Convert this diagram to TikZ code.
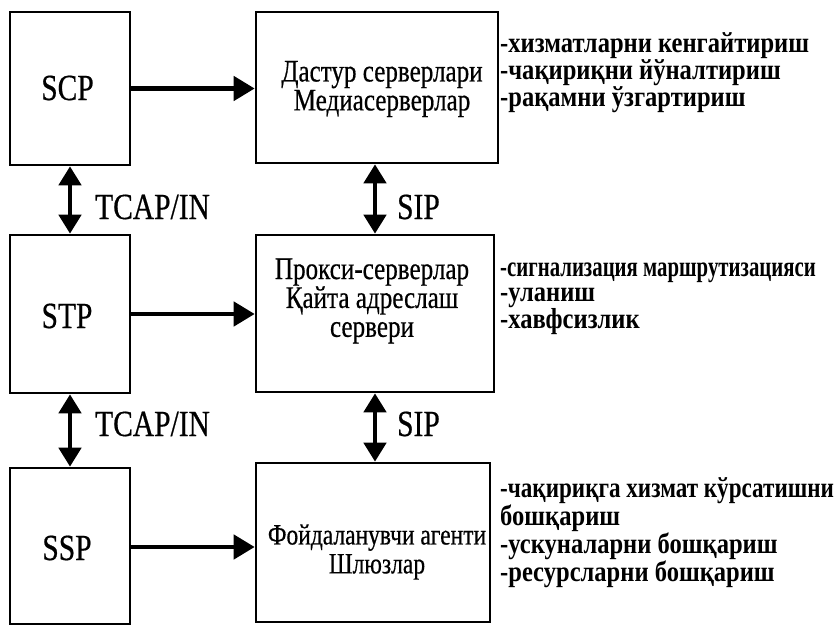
\documentclass[tikz,border=0pt]{standalone}
\usepackage{fontspec}
\setmainfont{Liberation Serif}[FakeStretch=0.8, FakeBold=0.5]
\newfontfamily\listfam{Liberation Serif}[FakeStretch=0.85]
\newfontfamily\listnarrow{Liberation Serif}[FakeStretch=0.72]
\newfontfamily\listmid{Liberation Serif}[FakeStretch=0.8]
\usetikzlibrary{arrows.meta}
\begin{document}
\begin{tikzpicture}[x=1bp,y=-1bp,
  box/.style={draw, line width=2.6bp, inner sep=0pt},
  boxtext/.style={align=center, inner sep=0pt, font=\fontsize{31.5}{29}\selectfont},
  labtext/.style={inner sep=0pt, font=\fontsize{37}{37}\selectfont},
  listtext/.style={align=left, inner sep=0pt, anchor=west, font=\listfam\bfseries\fontsize{29}{24.5}\selectfont},
  conn/.style={line width=4.5bp, -{Triangle[length=21bp,width=24bp]}},
  dconn/.style={line width=4.5bp, {Triangle[length=19bp,width=22bp]}-{Triangle[length=19bp,width=22bp]}}]
\useasboundingbox (0,0) rectangle (836,625);
% left column
\node[box, minimum width=120bp, minimum height=153bp] (scp) at (70,88.5) {};
\node[box, minimum width=120bp, minimum height=158bp] (stp) at (70,314) {};
\node[box, minimum width=120bp, minimum height=156bp] (ssp) at (70,546) {};
\node[labtext] (scpt) at (67.5,88) {SCP};
\node[labtext] (stpt) at (67,316) {STP};
\node[labtext] (sspt) at (67,548) {SSP};
% middle column
\node[box, minimum width=242bp, minimum height=151bp] (ds) at (377,87.5) {};
\node[box, minimum width=238bp, minimum height=157bp] (px) at (375,313.5) {};
\node[box, minimum width=234bp, minimum height=159bp] (fy) at (373,542.5) {};
\node[boxtext] (dst) at (382,89) {Дастур серверлари\\Медиасерверлар};
\node[boxtext] (pxt) at (372,301) {Прокси-серверлар\\Қайта адреслаш\\сервери};
\node[boxtext, font=\fontsize{29.5}{29}\selectfont] (fyt) at (377,552) {Фойдаланувчи агенти\\Шлюзлар};
% horizontal arrows
\draw[conn] (scp.east) -- (scp.east -| ds.west);
\draw[conn] (stp.east) -- (stp.east -| px.west);
\draw[conn] (ssp.east) ++(0,1) coordinate (sspa) (sspa) -- (sspa -| fy.west);
% vertical arrows
\draw[dconn] (scp.south) -- (stp.north);
\draw[dconn] (stp.south) -- (ssp.north);
\draw[dconn] (px.north) -- (px.north |- ds.south);
\draw[dconn] (px.south) -- (px.south |- fy.north);
% protocol labels
\node[labtext, anchor=west] (tc1) at (95,207) {TCAP/IN};
\node[labtext, anchor=west] (tc2) at (95,424) {TCAP/IN};
\node[labtext, anchor=west] (sip1) at (397,207) {SIP};
\node[labtext, anchor=west] (sip2) at (397,424) {SIP};
% function lists
\node[listtext] (l1) at (500,73) {-хизматларни кенгайтириш\\-чақириқни йўналтириш\\-рақамни ўзгартириш};
\node[listtext] (l2) at (500,299) {{\listnarrow\bfseries -сигнализация маршрутизацияси}\\-уланиш\\-хавфсизлик};
\node[listtext, font=\listfam\bfseries\fontsize{29}{26.3}\selectfont] (l3) at (500,532.5) {{\listmid\bfseries -чақириқга хизмат кўрсатишни}\\бошқариш\\-ускуналарни бошқариш\\-ресурсларни бошқариш};
\end{tikzpicture}
\end{document}
